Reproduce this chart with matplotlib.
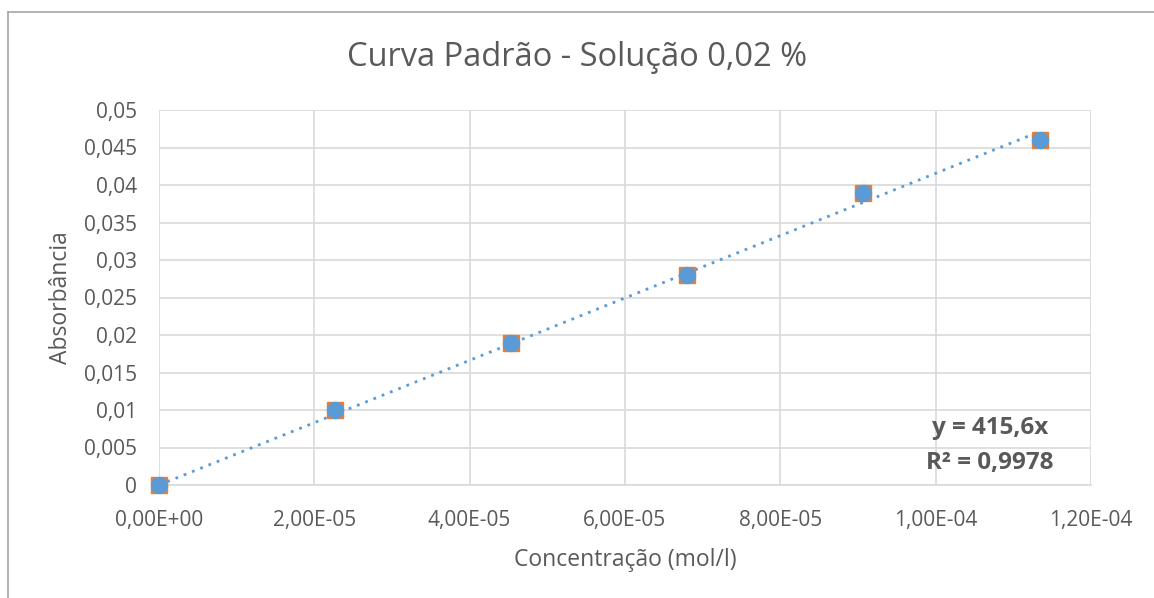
import numpy as np
import matplotlib
matplotlib.use('Agg')
from matplotlib import pyplot as plt
from matplotlib.lines import Line2D
from matplotlib.ticker import FuncFormatter

# data
concentracao = [0.0, 2.27e-5, 4.53e-5, 6.80e-5, 9.07e-5, 1.134e-4]
absorbancia = [0.0, 0.010, 0.019, 0.028, 0.039, 0.046]
slope = 415.6
x_ticks = [0, 2e-5, 4e-5, 6e-5, 8e-5, 1e-4, 1.2e-4]
y_ticks = [0, 0.005, 0.01, 0.015, 0.02, 0.025, 0.03, 0.035, 0.04, 0.045, 0.05]

plt.rcParams['font.family'] = ['Open Sans', 'DejaVu Sans']
txt = '#595959'
grid = '#d9d9d9'

fig = plt.figure(figsize=(11.54, 5.98), dpi=100)
ax = fig.add_axes([159/1154, 1 - 485/598, (1091-159)/1154, (485-110)/598])

xfit = np.array([0, concentracao[-1]])
ax.plot(xfit, slope*xfit, color='#5B9BD5', lw=2, ls=(0, (1, 2.2)), zorder=3)
ax.plot(concentracao, absorbancia, 's', color='#ED7D31', ms=11, zorder=4, clip_on=False)
ax.plot(concentracao, absorbancia, 'o', color='#5B9BD5', ms=11.5, zorder=5, clip_on=False)

ax.set_xlim(0, 1.2e-4)
ax.set_ylim(0, 0.05)
ax.set_xticks(x_ticks)
ax.set_yticks(y_ticks)

def fx(v, pos):
    s = '%.2E' % v
    return s.replace('.', ',')

def fy(v, pos):
    s = ('%.3f' % v).rstrip('0').rstrip('.')
    return s.replace('.', ',')

ax.xaxis.set_major_formatter(FuncFormatter(fx))
ax.yaxis.set_major_formatter(FuncFormatter(fy))
ax.tick_params(length=0, labelsize=15, colors=txt)
ax.tick_params(axis='x', pad=18)
ax.tick_params(axis='y', pad=16)
ax.grid(True, color=grid, lw=1.2)
ax.set_axisbelow(True)
for s in ['top', 'right', 'left']:
    ax.spines[s].set_visible(False)
ax.spines['bottom'].set_color(grid)
ax.spines['bottom'].set_linewidth(1.2)

ax.set_xlabel('Concentração (mol/l)', fontsize=16.5, color=txt, labelpad=12)
ax.set_ylabel('Absorbância', fontsize=16.5, color=txt, labelpad=8)
fig.text(0.5, 1 - 57/598, 'Curva Padrão - Solução 0,02 %', fontsize=23.5, color=txt,
         ha='center', va='center')

ax.text(1.07e-4, 0.0076, 'y = 415,6x', fontsize=17.5, fontweight='bold', color=txt, ha='center', va='center')
ax.text(1.07e-4, 0.0029, 'R² = 0,9978', fontsize=17.5, fontweight='bold', color=txt, ha='center', va='center')

# chart frame
fig.add_artist(Line2D([8/1154, 1], [1 - 11.5/598, 1 - 11.5/598], color='#a6a6a6', lw=1.2))
fig.add_artist(Line2D([8/1154, 8/1154], [0, 1 - 11.5/598], color='#a6a6a6', lw=1.2))

fig.savefig('out.png', dpi=100)
